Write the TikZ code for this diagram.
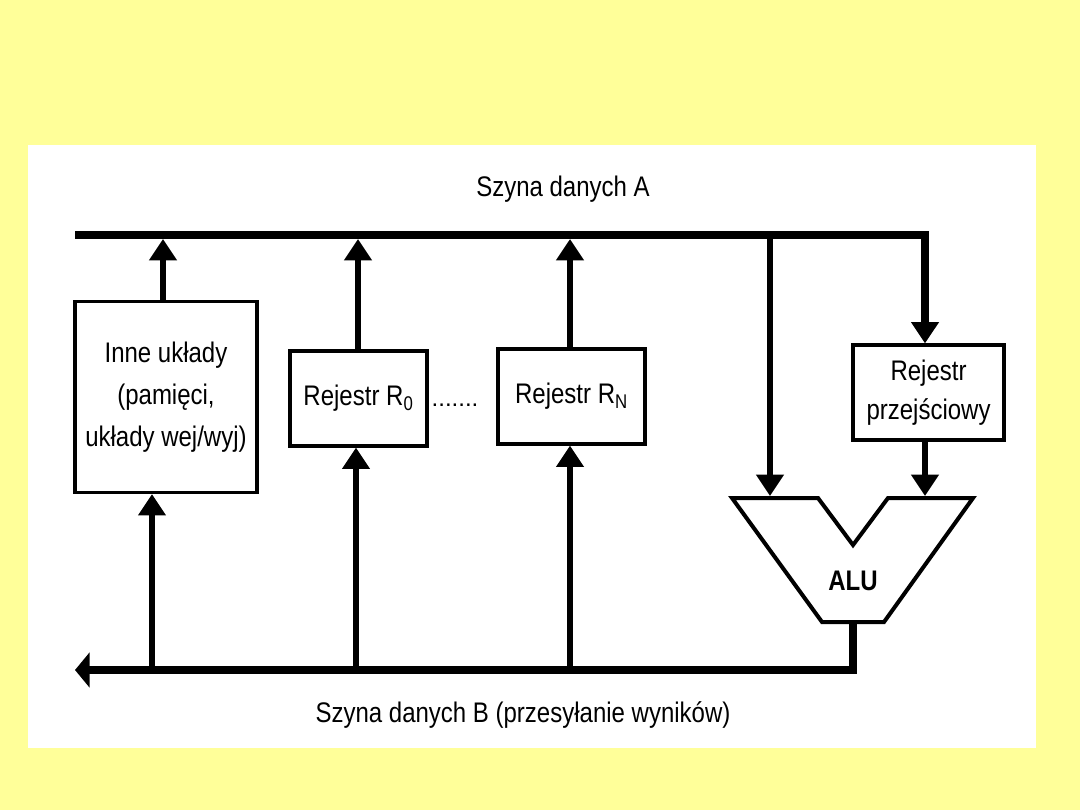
\documentclass[tikz,border=0pt]{standalone}
\usepackage{fontspec}
\usepackage{graphicx}
\setmainfont{Liberation Sans}
\usetikzlibrary{arrows.meta,calc}
\definecolor{bgyellow}{RGB}{255,255,153}
\newcommand{\tallt}[1]{\scalebox{1}[1.18]{#1}}
\begin{document}
\begin{tikzpicture}[x=0.75pt,y=-0.75pt,
  box/.style={draw,line width=2.4pt,fill=white,inner sep=0pt,align=center,font=\fontsize{18}{31.5}\selectfont},
  bus/.style={line width=6pt},
  conn/.style={line width=4.8pt},
  tipA/.style={-{Triangle[width=20pt,length=16pt]}},
  tipB/.style={-{Triangle[width=26pt,length=11pt]}},
  alushape/.style={draw,line width=3pt,fill=white,line join=miter},
  lbl/.style={font=\fontsize{18}{22}\selectfont}]
\fill[bgyellow] (0,0) rectangle (1080,810);
\fill[white] (28,145) rectangle (1036,748);

% boxes
\node[box,minimum width=136.5pt,minimum height=143.25pt] (inne) at (166,397)
  {\tallt{Inne układy}\\\tallt{(pamięci,}\\\tallt{układy wej/wyj)}};
\node[box,minimum width=102.75pt,minimum height=71.25pt] (r0) at (358.5,398.5)
  {\tallt{Rejestr R\textsubscript{0}}};
\node[box,minimum width=110.25pt,minimum height=71.25pt] (rn) at (571.5,396.5)
  {\tallt{Rejestr R\textsubscript{N}}};
\node[box,minimum width=113.25pt,minimum height=71.25pt,font=\fontsize{18}{29}\selectfont] (prz) at (928.5,392.5)
  {\tallt{Rejestr}\\\tallt{przejściowy}};
\node[font=\fontsize{18}{22}\selectfont,anchor=base] (dots) at (455,406) {.......};

% ALU
\draw[alushape] (732,498) -- (818,498) -- (853,545) -- (888,498) -- (973,498)
  -- (884,622) -- (822,622) -- cycle;
\node[font=\fontsize{18}{22}\selectfont\bfseries] (alu) at (853,581) {\tallt{ALU}};

% bus coordinates
\coordinate (aL) at (75,235);
\coordinate (aR) at (925,235);
\coordinate (a1) at (163,239);
\coordinate (a2) at (358,239);
\coordinate (a3) at (570,239);
\coordinate (a4) at (770,235);
\coordinate (aluL) at (770,496);
\coordinate (aluR) at (925,496);
\coordinate (aluOut) at (853,622);
\coordinate (bR) at (853,670);
\coordinate (bL) at (75,670);
\coordinate (b1) at (152,670);
\coordinate (b2) at (356,670);
\coordinate (b3) at (570,670);

% bus A
\draw[bus,line join=miter,tipA] (aL) -- (aR) -- (aR |- prz.north);
\draw[conn,tipA] (inne.north -| a1) -- (a1);
\draw[conn,tipA] (r0.north -| a2) -- (a2);
\draw[conn,tipA] (rn.north -| a3) -- (a3);
\draw[conn,tipA] (a4) -- (aluL);
\draw[conn,tipA] (prz.south -| aluR) -- (aluR);

% bus B
\draw[bus,line join=miter,tipB] (aluOut) -- (bR) -- (bL);
\draw[conn,tipA] (b1) -- (inne.south -| b1);
\draw[conn,tipA] (b2) -- (r0.south -| b2);
\draw[conn,tipA] (b3) -- (rn.south -| b3);

% labels
\node[lbl] (labelA) at (563,189) {\tallt{Szyna danych A}};
\node[lbl] (labelB) at (523,715) {\tallt{Szyna danych B (przesyłanie wyników)}};
\end{tikzpicture}
\end{document}
